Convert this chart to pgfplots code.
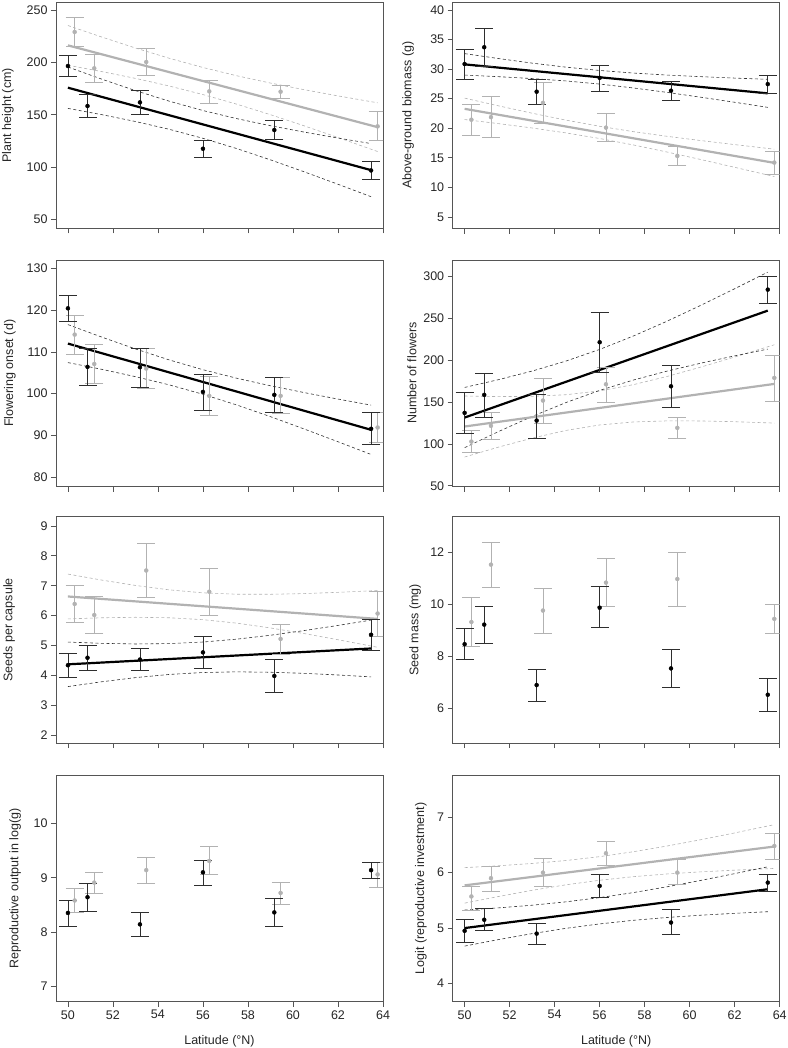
\documentclass[border=0pt]{standalone}
\usepackage{fontspec}
\setmainfont{Liberation Sans}
\usepackage{pgfplots}
\pgfplotsset{compat=1.18}
\definecolor{lgrey}{HTML}{B2B2B2}
\definecolor{dgrey}{HTML}{2E2E2E}
\definecolor{frame}{HTML}{555555}
\newcommand{\lfont}{\fontsize{12.5}{14}\selectfont}
\pgfkeys{/pgfplots/table/eb/.style={x=x, y=y, y error plus expr=\thisrow{hi}-\thisrow{y}, y error minus expr=\thisrow{y}-\thisrow{lo}}}
\pgfplotsset{
  panel/.style={scale only axis, width=327pt, height=226.5pt,
    xmin=49.47, xmax=64, xtick={50,52,...,64},
    tick align=outside, xtick pos=lower, ytick pos=left,
    major tick length=5pt,
    axis line style={frame, line width=0.7pt},
    tick style={frame, line width=0.7pt},
    every tick label/.append style={font=\lfont, text=black!85},
    /pgf/number format/assume math mode=true,
    every axis x label/.style={at={(axis description cs:0.5,0)}, anchor=center, yshift=-39pt, font=\lfont, text=black!85},
  },
  noxl/.style={xticklabels={}},
  yoff/.style={every axis y label/.style={at={(axis description cs:#1,0.5)}, rotate=90, anchor=center, font=\lfont, text=black!85}},
  bk/.style={only marks, mark=*, mark size=2pt, color=black,
    error bars/.cd, y dir=both, y explicit,
    error bar style={dgrey, line width=0.8pt},
    error mark options={dgrey, line width=0.8pt, rotate=90, mark size=9pt}},
  gy/.style={only marks, mark=*, mark size=2pt, color=lgrey,
    error bars/.cd, y dir=both, y explicit,
    error bar style={lgrey, line width=0.8pt},
    error mark options={lgrey, line width=0.8pt, rotate=90, mark size=9pt}},
  fitb/.style={black, line width=2.2pt, no marks},
  fitg/.style={lgrey, line width=2.2pt, no marks},
  cib/.style={black!80, line width=0.6pt, no marks, dash pattern=on 3pt off 2.5pt},
  cig/.style={lgrey, line width=0.6pt, no marks, dash pattern=on 3pt off 2.5pt},
}
\begin{document}
\begin{tikzpicture}
\path[use as bounding box] (0pt,0pt) rectangle (787pt,-1048pt);

% ---------- Panel 1: Plant height ----------
\begin{axis}[panel, noxl, at={(56pt,-2pt)}, anchor=north west,
  ymin=41.4, ymax=257.6, ytick={50,100,...,250},
  yoff=-0.147, ylabel={Plant height (cm)}]
\addplot[cig] coordinates {(50,235.15) (51.5,224.17) (53,213.68) (54.5,203.91) (56,195.07) (57.5,187.22) (59,180.22) (60.5,173.88) (62,167.96) (63.76,161.38)};
\addplot[cig] coordinates {(50,197.25) (51.5,191.21) (53,184.68) (54.5,177.43) (56,169.25) (57.5,160.08) (59,150.04) (60.5,139.36) (62,128.26) (63.76,114.88)};
\addplot[cib] coordinates {(50,195.55) (51.5,183.99) (53,173.01) (54.5,162.93) (56,154.00) (57.5,146.27) (59,139.50) (60.5,133.41) (62,127.73) (63.47,122.45)};
\addplot[cib] coordinates {(50,156.05) (51.5,150.09) (53,143.53) (54.5,136.09) (56,127.48) (57.5,117.69) (59,106.92) (60.5,95.49) (62,83.63) (63.47,71.75)};
\addplot[fitg] coordinates {(50,216.2) (63.76,138.13)};
\addplot[fitb] coordinates {(50,175.8) (63.47,97.1)};
\addplot[gy] table[eb] {
x y lo hi
50.3 229 215.3 242.7
51.17 194.3 180.9 207.3
53.48 200.3 187.3 213.1
56.28 172.3 161.1 182.8
59.45 172 165.6 178.3
63.76 138.9 125.5 152.9
};
\addplot[bk] table[eb] {
x y lo hi
50 196.5 186.6 206.4
50.87 158.3 147.5 169.1
53.2 161.8 150.3 172.9
56 117.5 109.6 125.5
59.17 135.4 126.4 144.3
63.47 96.8 88.5 105.1
};
\end{axis}

% ---------- Panel 2: Above-ground biomass ----------
\begin{axis}[panel, noxl, at={(452.7pt,-2pt)}, anchor=north west,
  ymin=3.04, ymax=41.35, ytick={5,10,...,40},
  yoff=-0.136, ylabel={Above-ground biomass (g)}]
\addplot[cig] coordinates {(50,25.09) (51.5,23.79) (53,22.54) (54.5,21.37) (56,20.33) (57.5,19.42) (59,18.63) (60.5,17.91) (62,17.23) (63.76,16.46)};
\addplot[cig] coordinates {(50,21.47) (51.5,20.78) (53,20.04) (54.5,19.21) (56,18.26) (57.5,17.17) (59,15.97) (60.5,14.70) (62,13.39) (63.76,11.83)};
\addplot[cib] coordinates {(50,32.62) (51.5,31.79) (53,31.01) (54.5,30.33) (56,29.77) (57.5,29.33) (59,28.99) (60.5,28.72) (62,28.48) (63.47,28.27)};
\addplot[cib] coordinates {(50,28.99) (51.5,28.72) (53,28.40) (54.5,28.00) (56,27.47) (57.5,26.81) (59,26.06) (60.5,25.24) (62,24.39) (63.47,23.53)};
\addplot[fitg] coordinates {(50,23.28) (63.76,14.14)};
\addplot[fitb] coordinates {(50,30.8) (63.47,25.9)};
\addplot[gy] table[eb] {
x y lo hi
50.3 21.44 18.87 23.95
51.17 21.88 18.37 25.34
53.48 24.28 20.77 27.79
56.28 20.1 17.76 22.44
59.45 15.31 13.75 16.87
63.76 14.19 12.24 16.14
};
\addplot[bk] table[eb] {
x y lo hi
50 30.86 28.24 33.37
50.87 33.70 30.52 36.88
53.2 26.18 24.11 28.24
56 28.52 26.23 30.64
59.17 26.34 24.78 27.85
63.47 27.46 25.9 28.96
};
\end{axis}

% ---------- Panel 3: Flowering onset ----------
\begin{axis}[panel, noxl, at={(56pt,-260pt)}, anchor=north west,
  ymin=77.75, ymax=132, ytick={80,90,...,130},
  yoff=-0.141, ylabel={Flowering onset (d)}]
\addplot[cib] coordinates {(50,116.53) (51.5,113.54) (53,110.70) (54.5,108.07) (56,105.72) (57.5,103.68) (59,101.88) (60.5,100.24) (62,98.69) (63.47,97.24)};
\addplot[cib] coordinates {(50,107.43) (51.5,105.82) (53,104.06) (54.5,102.10) (56,99.84) (57.5,97.28) (59,94.48) (60.5,91.52) (62,88.47) (63.47,85.43)};
\addplot[fitb] coordinates {(50,111.98) (63.47,91.33)};
\addplot[gy] table[eb] {
x y lo hi
50.3 114.13 109.5 118.68
51.17 107.1 102.4 111.8
53.48 106 101.13 110.86
56.28 99.46 94.75 104.16
59.45 99.46 95.23 103.9
63.76 91.88 88.3 95.55
};
\addplot[bk] table[eb] {
x y lo hi
50 120.43 117.4 123.46
50.87 106.4 101.93 110.86
53.2 106.32 101.6 110.86
56 100.4 96.03 104.7
59.17 99.7 95.47 103.9
63.47 91.56 87.9 95.55
};
\end{axis}

% ---------- Panel 4: Number of flowers ----------
\begin{axis}[panel, noxl, at={(452.7pt,-260pt)}, anchor=north west,
  ymin=49.2, ymax=319.9, ytick={50,100,...,300},
  yoff=-0.125, ylabel={Number of flowers}]
\addplot[cig] coordinates {(50,157.35) (51.5,156.67) (53,156.94) (54.5,158.89) (56,163.45) (57.5,170.94) (59,180.75) (60.5,191.95) (62,203.95) (63.76,218.6)};
\addplot[cig] coordinates {(50,84.45) (51.5,96.23) (53,107.06) (54.5,116.19) (56,122.73) (57.5,126.34) (59,127.63) (60.5,127.53) (62,126.63) (63.76,125.0)};
\addplot[cib] coordinates {(50,167.6) (51.5,176.85) (53,187.16) (54.5,199.08) (56,213.02) (57.5,229.07) (59,246.84) (60.5,265.81) (62,285.57) (63.47,305.4)};
\addplot[cib] coordinates {(50,95.6) (51.5,114.81) (53,132.96) (54.5,149.52) (56,164.04) (57.5,176.45) (59,187.14) (60.5,196.63) (62,205.35) (63.47,213.4)};
\addplot[fitg] coordinates {(50,120.9) (63.76,171.8)};
\addplot[fitb] coordinates {(50,131.6) (63.47,259.4)};
\addplot[gy] table[eb] {
x y lo hi
50.3 102.9 90.2 115.7
51.17 121.7 104.9 137.2
53.48 151.9 124.8 178.6
56.28 171.4 149.9 191.7
59.45 119.3 106.9 131.6
63.76 179 151.5 205.7
};
\addplot[bk] table[eb] {
x y lo hi
50 137.2 112.5 161.5
50.87 158.7 132 184.6
53.2 128 106.9 159.5
56 221.6 186.1 257
59.17 169 144 193.7
63.47 284.5 268.2 300
};
\end{axis}

% ---------- Panel 5: Seeds per capsule ----------
\begin{axis}[panel, noxl, at={(56pt,-516.7pt)}, anchor=north west,
  ymin=1.73, ymax=9.31, ytick={2,3,...,9},
  yoff=-0.143, ylabel={Seeds per capsule}]
\addplot[cig] coordinates {(50,7.390) (51.5,7.189) (53,7.010) (54.5,6.862) (56,6.762) (57.5,6.716) (59,6.713) (60.5,6.737) (62,6.779) (63.76,6.840)};
\addplot[cig] coordinates {(50,5.890) (51.5,5.927) (53,5.944) (54.5,5.928) (56,5.864) (57.5,5.748) (59,5.587) (60.5,5.399) (62,5.193) (63.76,4.940)};
\addplot[cib] coordinates {(50,5.115) (51.5,5.072) (53,5.051) (54.5,5.063) (56,5.116) (57.5,5.212) (59,5.343) (60.5,5.500) (62,5.671) (63.47,5.850)};
\addplot[cib] coordinates {(50,3.625) (51.5,3.786) (53,3.925) (54.5,4.031) (56,4.096) (57.5,4.118) (59,4.105) (60.5,4.068) (62,4.013) (63.47,3.950)};
\addplot[fitg] coordinates {(50,6.64) (63.76,5.89)};
\addplot[fitb] coordinates {(50,4.37) (63.47,4.9)};
\addplot[gy] table[eb] {
x y lo hi
50.3 6.39 5.76 7.02
51.17 6.02 5.39 6.64
53.48 7.51 6.62 8.4
56.28 6.8 6.02 7.58
59.45 5.22 4.7 5.72
63.76 6.07 5.32 6.82
};
\addplot[bk] table[eb] {
x y lo hi
50 4.34 3.93 4.74
50.87 4.59 4.18 5.0
53.2 4.53 4.18 4.89
56 4.77 4.24 5.3
59.17 3.98 3.44 4.52
63.47 5.36 4.84 5.86
};
\end{axis}

% ---------- Panel 6: Seed mass ----------
\begin{axis}[panel, noxl, at={(452.7pt,-516.7pt)}, anchor=north west,
  ymin=4.67, ymax=13.36, ytick={6,8,10,12},
  yoff=-0.115, ylabel={Seed mass (mg)}]
\addplot[gy] table[eb] {
x y lo hi
50.3 9.32 8.37 10.28
51.17 11.52 10.66 12.37
53.48 9.76 8.87 10.61
56.28 10.83 9.91 11.75
59.45 10.97 9.92 12
63.76 9.44 8.89 9.99
};
\addplot[bk] table[eb] {
x y lo hi
50 8.47 7.87 9.06
50.87 9.22 8.51 9.92
53.2 6.9 6.29 7.52
56 9.87 9.1 10.68
59.17 7.54 6.8 8.28
63.47 6.53 5.9 7.16
};
\end{axis}

% ---------- Panel 7: Reproductive output ----------
\begin{axis}[panel, at={(56pt,-775.3pt)}, anchor=north west,
  ymin=6.71, ymax=10.89, ytick={7,8,9,10},
  yoff=-0.125, ylabel={Reproductive output in log(g)},
  xlabel={Latitude (°N)}]
\addplot[gy] table[eb] {
x y lo hi
50.3 8.58 8.36 8.8
51.17 8.91 8.71 9.09
53.48 9.14 8.9 9.37
56.28 9.31 9.06 9.57
59.45 8.72 8.5 8.91
63.76 9.06 8.83 9.28
};
\addplot[bk] table[eb] {
x y lo hi
50 8.35 8.1 8.59
50.87 8.64 8.38 8.89
53.2 8.14 7.92 8.36
56 9.1 8.86 9.32
59.17 8.36 8.1 8.62
63.47 9.14 8.98 9.28
};
\end{axis}

% ---------- Panel 8: Logit reproductive investment ----------
\begin{axis}[panel, at={(452.7pt,-775.3pt)}, anchor=north west,
  ymin=3.67, ymax=7.755, ytick={4,5,6,7},
  yoff=-0.097, ylabel={Logit (reproductive investment)},
  xlabel={Latitude (°N)}]
\addplot[cig] coordinates {(50,6.090) (51.5,6.123) (53,6.165) (54.5,6.218) (56,6.288) (57.5,6.377) (59,6.480) (60.5,6.594) (62,6.716) (63.76,6.865)};
\addplot[cig] coordinates {(50,5.450) (51.5,5.569) (53,5.681) (54.5,5.780) (56,5.862) (57.5,5.927) (59,5.976) (60.5,6.014) (62,6.044) (63.76,6.075)};
\addplot[cib] coordinates {(50,5.325) (51.5,5.364) (53,5.412) (54.5,5.473) (56,5.549) (57.5,5.640) (59,5.745) (60.5,5.860) (62,5.982) (63.47,6.105)};
\addplot[cib] coordinates {(50,4.675) (51.5,4.792) (53,4.900) (54.5,4.995) (56,5.075) (57.5,5.140) (59,5.191) (60.5,5.232) (62,5.266) (63.47,5.295)};
\addplot[fitg] coordinates {(50,5.77) (63.76,6.47)};
\addplot[fitb] coordinates {(50,5.0) (63.47,5.7)};
\addplot[gy] table[eb] {
x y lo hi
50.3 5.57 5.32 5.76
51.17 5.9 5.67 6.11
53.48 6.0 5.76 6.25
56.28 6.35 6.13 6.57
59.45 6.0 5.79 6.23
63.76 6.48 6.24 6.7
};
\addplot[bk] table[eb] {
x y lo hi
50 4.95 4.74 5.15
50.87 5.15 4.95 5.35
53.2 4.9 4.71 5.09
56 5.76 5.56 5.96
59.17 5.1 4.88 5.34
63.47 5.82 5.67 5.97
};
\end{axis}
\end{tikzpicture}
\end{document}
